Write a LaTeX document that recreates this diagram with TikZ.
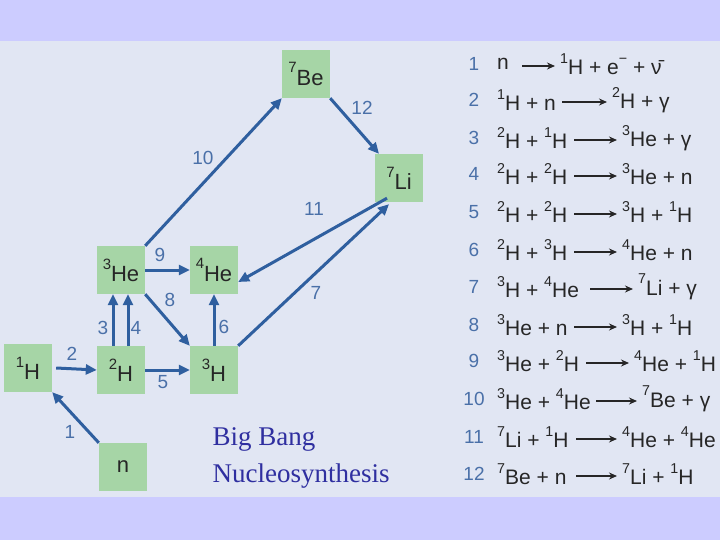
\documentclass[tikz,border=0pt]{standalone}
\usepackage{fontspec}
\setmainfont{Liberation Sans}
\newfontfamily\serifx{Liberation Serif}
\usetikzlibrary{arrows.meta}
\definecolor{band}{HTML}{CCCCFF}
\definecolor{inner}{HTML}{E1E6F3}
\definecolor{boxg}{HTML}{A6D5A6}
\definecolor{arr}{HTML}{2F5F9F}
\definecolor{numc}{HTML}{4A70A8}
\definecolor{titc}{HTML}{2F2FA0}
\newcommand{\up}[1]{\raisebox{0.55em}{\fontsize{0.68em}{0.68em}\selectfont #1}}
\begin{document}
\begin{tikzpicture}[x=1pt,y=-1pt,
  nuc/.style={fill=boxg,minimum size=48pt,inner sep=0pt,font=\fontsize{22}{22}\selectfont,text=black!85},
  rx/.style={draw=arr,line width=3pt,-{Triangle[length=11pt,width=10pt]}},
  lab/.style={text=numc,font=\fontsize{19}{19}\selectfont},
  eq/.style={anchor=west,inner sep=0pt,font=\fontsize{21}{21}\selectfont,text=black!85},
  eqn/.style={anchor=center,inner sep=0pt,font=\fontsize{19}{19}\selectfont,text=numc},
  ea/.style={draw=black!85,line width=1.4pt,-{Stealth[length=8pt,width=7pt]},shorten >=5pt}]
\useasboundingbox (0,0) rectangle (720,540);
\fill[band] (0,0) rectangle (720,540);
\fill[inner] (0,41) rectangle (720,497);
\node[nuc] (h1) at (28,368) {\up{1}H};
\node[nuc] (h2) at (121,370) {\up{2}H};
\node[nuc] (h3) at (214,370) {\up{3}H};
\node[nuc] (he3) at (121,270) {\up{3}He};
\node[nuc] (he4) at (214,270) {\up{4}He};
\node[nuc] (n) at (123,467) {n};
\node[nuc] (be7) at (306,74) {\up{7}Be};
\node[nuc] (li7) at (399,178) {\up{7}Li};
\draw[rx] (n.north west) -- (h1.south east);
\draw[rx] ([xshift=4pt]h1.east) -- (h2.west);
\draw[rx] ([xshift=-8pt]h2.north) -- ([xshift=-8pt]he3.south);
\draw[rx] ([xshift=7pt]h2.north) -- ([xshift=7pt]he3.south);
\draw[rx] (h2.east) -- (h3.west);
\draw[rx] (h3.north) -- (he4.south);
\draw[rx] (h3.north east) -- ([xshift=-10pt,yshift=-2pt]li7.south);
\draw[rx] ([xshift=-12pt,yshift=4pt]li7.south) -- ([yshift=-12pt]he4.east);
\draw[rx] (he3.south east) -- (h3.north west);
\draw[rx] (he3.east) -- (he4.west);
\draw[rx] (he3.north east) -- (be7.south west);
\draw[rx] (be7.south east) -- ([xshift=-20pt]li7.north);
\node[lab] at (70,432) {1};
\node[lab] at (72,354) {2};
\node[lab] at (103,328) {3};
\node[lab] at (136,328) {4};
\node[lab] at (163,382) {5};
\node[lab] at (224,327) {6};
\node[lab] at (316,293) {7};
\node[lab] at (170,300) {8};
\node[lab] at (160,255) {9};
\node[lab] at (203,158) {10};
\node[lab] at (314,209) {11};
\node[lab] at (362,108) {12};
\node[text=titc,anchor=west,align=left,font=\serifx\fontsize{27}{37}\selectfont] (title) at (209,458) {Big Bang\\Nucleosynthesis};
\foreach \i/\y/\L/\xa/\xb/\R in {
 1/64/{n}/522/560/{\up{1}H + e\up{−} + ν̄},
 2/100/{\up{1}H + n}/562/612/{\up{2}H + γ},
 3/138/{\up{2}H + \up{1}H}/574/622/{\up{3}He + γ},
 4/174/{\up{2}H + \up{2}H}/574/622/{\up{3}He + n},
 5/212/{\up{2}H + \up{2}H}/574/622/{\up{3}H + \up{1}H},
 6/250/{\up{2}H + \up{3}H}/574/622/{\up{4}He + n},
 7/287/{\up{3}H + \up{4}He}/590/638/{\up{7}Li + γ},
 8/325/{\up{3}He + n}/574/622/{\up{3}H + \up{1}H},
 9/361/{\up{3}He + \up{2}H}/586/634/{\up{4}He + \up{1}H},
 10/399/{\up{3}He + \up{4}He}/596/642/{\up{7}Be + γ},
 11/437/{\up{7}Li + \up{1}H}/576/622/{\up{4}He + \up{4}He},
 12/474/{\up{7}Be + n}/576/622/{\up{7}Li + \up{1}H}}{
  \node[eqn] (num\i) at (474,\y) {\i};
  \node[eq] (l\i) at (497,\y) {\L};
  \node[eq] (r\i) at (\xb,\y) {\R};
  \coordinate (s\i) at (\xa,\y+2);
  \draw[ea] (s\i) -- (r\i.west |- s\i);
}
\end{tikzpicture}
\end{document}
